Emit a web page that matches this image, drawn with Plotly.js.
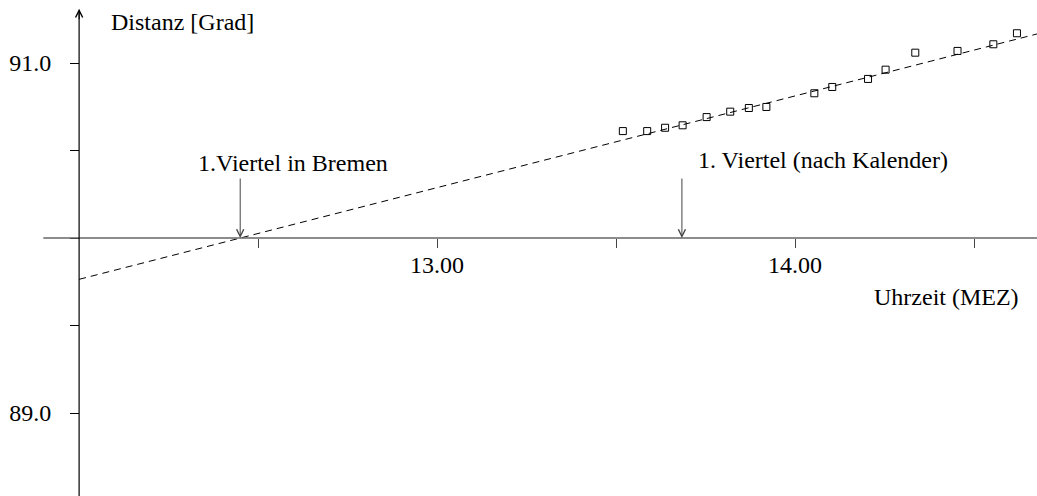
<!DOCTYPE html>
<html>
<head>
<meta charset="utf-8">
<script src="https://cdn.plot.ly/plotly-3.0.1.min.js"></script>
<style>
  html, body { margin: 0; padding: 0; background: #fff; }
  #chart { width: 1037px; height: 496px; }
</style>
</head>
<body>
<div id="chart"></div>
<script>
// measured times (MEZ, decimal hours) and distances (degrees)
const obsTime = [13.519, 13.587, 13.637, 13.686, 13.753, 13.819, 13.871, 13.920,
                 14.054, 14.104, 14.204, 14.253, 14.336, 14.454, 14.554, 14.620];
const obsDist = [90.611, 90.611, 90.630, 90.644, 90.691, 90.722, 90.743, 90.749,
                 90.827, 90.863, 90.909, 90.962, 91.059, 91.069, 91.107, 91.170];

// fitted straight line
const fitTime = [12.0, 14.68];
const fitDist = [89.764, 91.168];

const xTickVals = [12.5, 13.0, 13.5, 14.0, 14.5];
const xTickText = ['', '13.00', '', '14.00', ''];
const yTickVals = [89.0, 89.5, 90.0, 90.5, 91.0];
const yTickText = ['89.0', '', '', '', '91.0'];

const bremenTime = 12.45;     // 1.Viertel in Bremen
const kalenderTime = 13.684;  // 1. Viertel (nach Kalender)

const font = { family: 'Liberation Serif, serif', size: 24, color: '#000' };

const traces = [
    {
        x: fitTime, y: fitDist, mode: 'lines', hoverinfo: 'skip',
        line: { color: '#000', width: 1, dash: '7px,5px' }
    },
    {
        x: obsTime, y: obsDist, mode: 'markers',
        marker: { symbol: 'square-open', size: 7, color: '#000', line: { width: 1, color: '#000' } }
    }
];

const layout = {
    width: 1037, height: 496,
    margin: { l: 0, r: 0, t: 0, b: 0 },
    paper_bgcolor: '#fff', plot_bgcolor: '#fff',
    showlegend: false,
    font: font,
    xaxis: {
        range: [11.779, 14.676], anchor: 'free', position: 0.5201,
        showgrid: false, zeroline: false, showline: false,
        ticks: 'outside', ticklen: 9, tickwidth: 1, tickcolor: '#444',
        tickvals: xTickVals, ticktext: xTickText,
        ticklabelstandoff: -4, tickfont: font
    },
    yaxis: {
        range: [88.526, 91.36], anchor: 'free', position: 79 / 1037,
        showgrid: false, zeroline: false, showline: false,
        ticks: 'outside', ticklen: 9, tickwidth: 1, tickcolor: '#000',
        tickvals: yTickVals, ticktext: yTickText,
        ticklabelstandoff: 14, tickfont: font
    },
    shapes: [
        { type: 'line', xref: 'x', yref: 'y', x0: 11.9, x1: 14.676, y0: 90, y1: 90,
          line: { color: '#666', width: 1.6 } },
        { type: 'line', xref: 'x', yref: 'y', x0: 12.0, x1: 12.0, y0: 88.526, y1: 91.3,
          line: { color: '#000', width: 1.2 } }
    ],
    annotations: [
        // arrow tip of the y axis
        { x: 12.0, y: 91.31, xref: 'x', yref: 'y', text: '', showarrow: true,
          ax: 0, ay: 12, arrowhead: 5, arrowsize: 1.4, arrowwidth: 1, arrowcolor: '#000' },
        { x: 12.0, y: 90, xref: 'x', yref: 'y', text: 'Distanz [Grad]', showarrow: false,
          xanchor: 'left', yanchor: 'middle', xshift: 30, yshift: 216, font: font },
        { x: 14.646, y: 90, xref: 'x', yref: 'y', text: 'Uhrzeit (MEZ)', showarrow: false,
          xanchor: 'right', yanchor: 'middle', xshift: -5, yshift: -59, font: font },
        { x: bremenTime, y: 90, xref: 'x', yref: 'y', text: '', showarrow: true,
          ax: 0, ay: -61, arrowhead: 5, arrowsize: 1.4, arrowwidth: 1, arrowcolor: '#444' },
        { x: bremenTime, y: 90, xref: 'x', yref: 'y', text: '1.Viertel in Bremen', showarrow: false,
          xanchor: 'center', yanchor: 'middle', xshift: 53, yshift: 75, font: font },
        { x: kalenderTime, y: 90, xref: 'x', yref: 'y', text: '', showarrow: true,
          ax: 0, ay: -61, arrowhead: 5, arrowsize: 1.4, arrowwidth: 1, arrowcolor: '#444' },
        { x: kalenderTime, y: 90, xref: 'x', yref: 'y', text: '1. Viertel (nach Kalender)', showarrow: false,
          xanchor: 'center', yanchor: 'middle', xshift: 141, yshift: 78, font: font }
    ]
};

Plotly.newPlot('chart', traces, layout, { displayModeBar: false, staticPlot: true });
</script>
</body>
</html>
